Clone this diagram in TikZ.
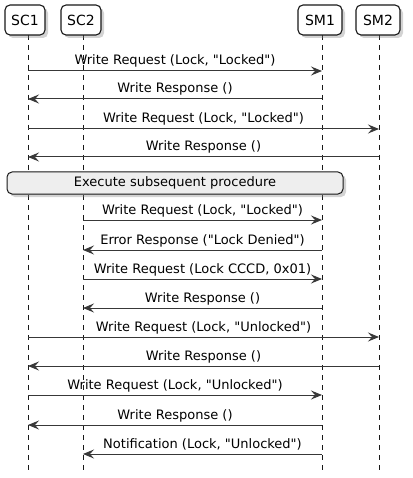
\documentclass[tikz,border=0pt]{standalone}
\usepackage{fontspec}
\setmainfont{DejaVu Sans}
\usetikzlibrary{arrows.meta,shadows}
\definecolor{ln}{HTML}{181818}
\definecolor{arr}{HTML}{383838}
\definecolor{grp}{HTML}{EEEEEE}
\newcommand\qq{\textquotedbl}
\tikzset{
  part/.style={draw=ln, line width=1.1pt, fill=white, rounded corners=5pt,
    minimum height=30pt, inner xsep=6pt,
    font=\fontsize{14}{16}\selectfont,
    drop shadow={shadow xshift=3pt, shadow yshift=-3pt, opacity=0.35, fill=gray}},
  life/.style={draw=ln, line width=0.6pt, dash pattern=on 5pt off 5pt},
  msg/.style={draw=arr, line width=1pt, -{Stealth[length=11pt,width=9pt,inset=4pt]}},
  lbl/.style={font=\fontsize{13}{15}\selectfont, inner sep=0pt, anchor=base},
  grpbox/.style={draw=ln, line width=1pt, fill=grp, rounded corners=5pt,
    drop shadow={shadow xshift=3pt, shadow yshift=-3pt, opacity=0.35, fill=gray}}
}
\newcommand\seqmsg[5]{% id from to y label
  \coordinate (#1a) at (#2 |- 0,#4);
  \coordinate (#1b) at (#3 |- 0,#4);
  \draw[msg] (#1a) -- (#1b) node[lbl, midway, yshift=6pt] {#5};
}
\begin{document}
\begin{tikzpicture}[x=1pt,y=-1pt]
\useasboundingbox (0,0) rectangle (412,478);
% lifeline coordinates
\coordinate (lSC1) at (28,0);
\coordinate (lSC2) at (83,0);
\coordinate (lSM1) at (322,0);
\coordinate (lSM2) at (379,0);
\foreach \n in {SC1,SC2,SM1,SM2}{
  \coordinate (t\n) at (l\n |- 0,35);
  \coordinate (e\n) at (l\n |- 0,471);
  \draw[life] (t\n) -- (e\n);
}
\node[part, minimum width=40pt] (SC1) at (25,20) {SC1};
\node[part, minimum width=40pt] (SC2) at (81,20) {SC2};
\node[part, minimum width=44pt] (SM1) at (320,20) {SM1};
\node[part, minimum width=44pt] (SM2) at (378,20) {SM2};

\seqmsg{m1}{lSC1}{lSM1}{71}{Write Request (Lock, \qq Locked\qq)}
\seqmsg{m2}{lSM1}{lSC1}{99}{Write Response ()}
\seqmsg{m3}{lSC1}{lSM2}{129}{Write Request (Lock, \qq Locked\qq)}
\seqmsg{m4}{lSM2}{lSC1}{157}{Write Response ()}

\node[grpbox, minimum width=336pt, minimum height=22pt, inner sep=0pt,
  font=\fontsize{13}{15}\selectfont] (grp) at (175,183) {Execute subsequent procedure};

\seqmsg{m5}{lSC2}{lSM1}{220}{Write Request (Lock, \qq Locked\qq)}
\seqmsg{m6}{lSM1}{lSC2}{250}{Error Response (\qq Lock Denied\qq)}
\seqmsg{m7}{lSC2}{lSM1}{279}{Write Request (Lock CCCD, 0x01)}
\seqmsg{m8}{lSM1}{lSC2}{308}{Write Response ()}
\seqmsg{m9}{lSC1}{lSM2}{337}{Write Request (Lock, \qq Unlocked\qq)}
\seqmsg{m10}{lSM2}{lSC1}{366}{Write Response ()}
\seqmsg{m11}{lSC1}{lSM1}{395}{Write Request (Lock, \qq Unlocked\qq)}
\seqmsg{m12}{lSM1}{lSC1}{425}{Write Response ()}
\seqmsg{m13}{lSM1}{lSC2}{454}{Notification (Lock, \qq Unlocked\qq)}
\end{tikzpicture}
\end{document}
